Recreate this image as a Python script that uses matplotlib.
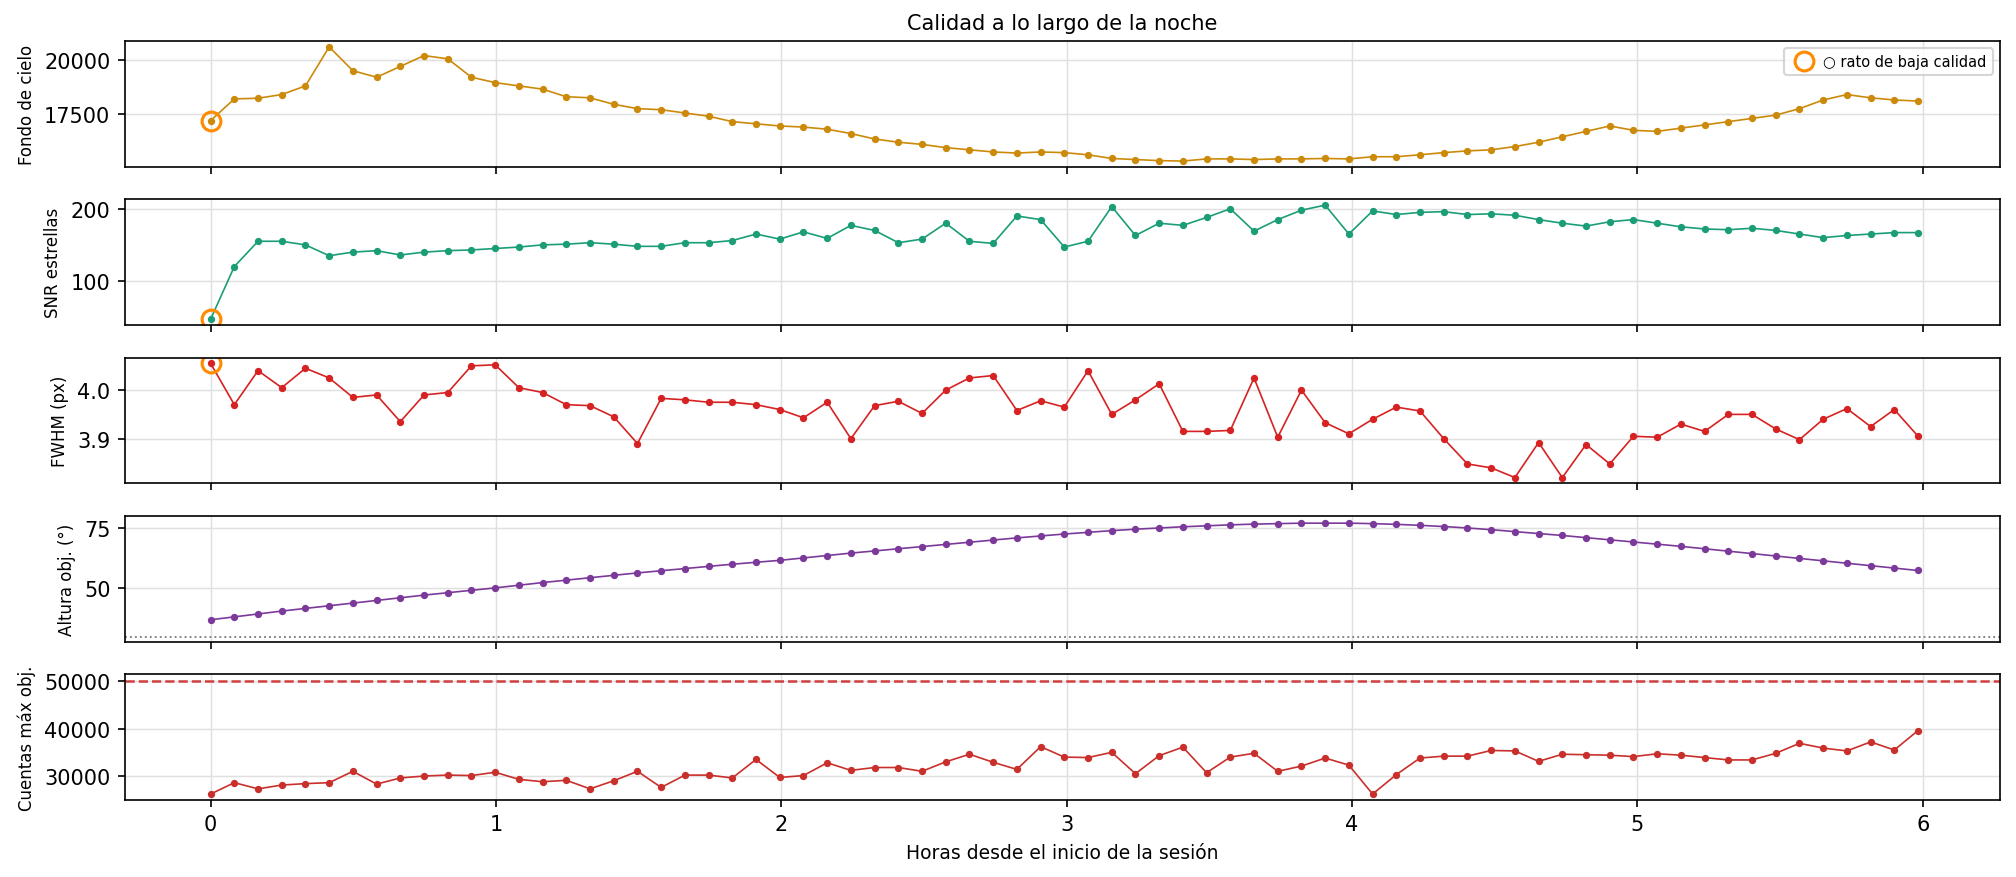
import numpy as np
import matplotlib
matplotlib.use("Agg")
import matplotlib.pyplot as plt

hours = np.arange(73) * 0.0831

fondo = [17200, 18200, 18230, 18400, 18800, 20600, 19500, 19200, 19700, 20200,
         20050, 19200, 18950, 18800, 18650, 18300, 18250, 17950, 17750, 17700,
         17550, 17400, 17150, 17050, 16950, 16900, 16800, 16600, 16350, 16200,
         16100, 15950, 15850, 15750, 15700, 15750, 15720, 15620, 15450, 15400,
         15350, 15330, 15430, 15430, 15400, 15430, 15430, 15450, 15430, 15530,
         15530, 15620, 15720, 15800, 15850, 16000, 16200, 16450, 16700, 16950,
         16750, 16700, 16850, 17000, 17150, 17300, 17450, 17750, 18150, 18400,
         18250, 18150, 18100]

snr = [47, 120, 155, 155, 150, 135, 140, 142, 136, 140, 142, 143, 145, 147, 150,
       151, 153, 151, 148, 148, 153, 153, 156, 165, 158, 168, 159, 177, 170, 153,
       158, 180, 155, 152, 190, 185, 147, 155, 203, 163, 180, 177, 188, 200, 169,
       185, 198, 205, 165, 197, 192, 195, 196, 192, 193, 191, 185, 180, 176, 182,
       185, 180, 175, 172, 171, 173, 170, 165, 160, 163, 165, 167, 167]

fwhm = [4.055, 3.97, 4.04, 4.005, 4.045, 4.025, 3.985, 3.99, 3.935, 3.99, 3.995,
        4.05, 4.052, 4.005, 3.995, 3.97, 3.968, 3.945, 3.89, 3.983, 3.98, 3.975,
        3.975, 3.97, 3.96, 3.943, 3.975, 3.9, 3.968, 3.977, 3.952, 4.0, 4.025,
        4.03, 3.958, 3.978, 3.965, 4.04, 3.95, 3.98, 4.013, 3.915, 3.915, 3.917,
        4.025, 3.903, 4.0, 3.933, 3.91, 3.94, 3.965, 3.957, 3.9, 3.848, 3.84,
        3.82, 3.892, 3.82, 3.888, 3.848, 3.905, 3.903, 3.93, 3.915, 3.95, 3.95,
        3.92, 3.898, 3.94, 3.962, 3.925, 3.96, 3.905]

altura = [37, 38.2, 39.4, 40.6, 41.7, 42.8, 43.9, 45, 46.1, 47.2, 48.2, 49.2, 50.2,
          51.3, 52.4, 53.4, 54.4, 55.4, 56.4, 57.3, 58.2, 59.1, 60, 60.8, 61.6,
          62.6, 63.6, 64.6, 65.5, 66.4, 67.3, 68.2, 69.1, 70, 70.9, 71.7, 72.5,
          73.2, 73.9, 74.5, 75, 75.5, 75.9, 76.3, 76.6, 76.8, 77, 77, 77,
          76.8, 76.5, 76.1, 75.6, 75, 74.3, 73.5, 72.7, 71.9, 71, 70.1, 69.2,
          68.3, 67.4, 66.4, 65.4, 64.4, 63.4, 62.4, 61.4, 60.4, 59.4, 58.4, 57.4]

cuentas = [26200, 28600, 27300, 28100, 28400, 28600, 31000, 28300, 29600, 30000,
           30200, 30100, 30800, 29300, 28800, 29100, 27300, 29000, 31000, 27600,
           30200, 30200, 29600, 33500, 29700, 30100, 32800, 31200, 31800, 31800,
           31000, 33000, 34600, 32900, 31400, 36200, 34000, 33900, 35000, 30500,
           34300, 36100, 30700, 34000, 34800, 31000, 32100, 33800, 32300, 26200,
           30300, 33800, 34200, 34200, 35400, 35300, 33100, 34600, 34500, 34400,
           34100, 34700, 34400, 33900, 33400, 33400, 34800, 36900, 35900, 35300,
           37200, 35500, 39600]

series = [
    (fondo, "Fondo de cielo", "#cc8a0a"),
    (snr, "SNR estrellas", "#1b9e77"),
    (fwhm, "FWHM (px)", "#d62222"),
    (altura, "Altura obj. (°)", "#7b3a9a"),
    (cuentas, "Cuentas máx obj.", "#c9302c"),
]

fig, axes = plt.subplots(5, 1, figsize=(13.44, 5.853), dpi=150, sharex=True)
fig.subplots_adjust(left=0.062, right=0.992, top=0.952, bottom=0.088, hspace=0.26)

for ax, (vals, lab, col) in zip(axes, series):
    ax.plot(hours, vals, "-o", color=col, lw=0.8, ms=2.5)
    ax.set_ylabel(lab, fontsize=8)
    ax.grid(True, color="#e0e0e0", lw=0.7)
    ax.tick_params(labelsize=10)

# primer fotograma marcado como de baja calidad
for ax, vals in zip(axes[:3], [fondo, snr, fwhm]):
    ax.plot(hours[0], vals[0], "o", mfc="none", mec="#ff8c00", mew=1.5, ms=9,
            label="○ rato de baja calidad")
axes[0].legend(loc="upper right", fontsize=7, handletextpad=0.3, borderpad=0.4)

axes[0].set_yticks([17500, 20000])
axes[1].set_yticks([100, 200])
axes[2].set_yticks([3.9, 4.0])
axes[3].set_yticks([50, 75])
axes[3].set_ylim(28, 80)
axes[3].axhline(30, color="gray", ls=":", lw=0.9)
axes[4].set_ylim(25000, 51500)
axes[4].axhline(50000, color="#d04040", ls="--", lw=1.2)
axes[4].set_xlim(-0.3, 6.27)
axes[4].set_xlabel("Horas desde el inicio de la sesión", fontsize=9)
axes[0].set_title("Calidad a lo largo de la noche", fontsize=10)

fig.savefig("out.png")
